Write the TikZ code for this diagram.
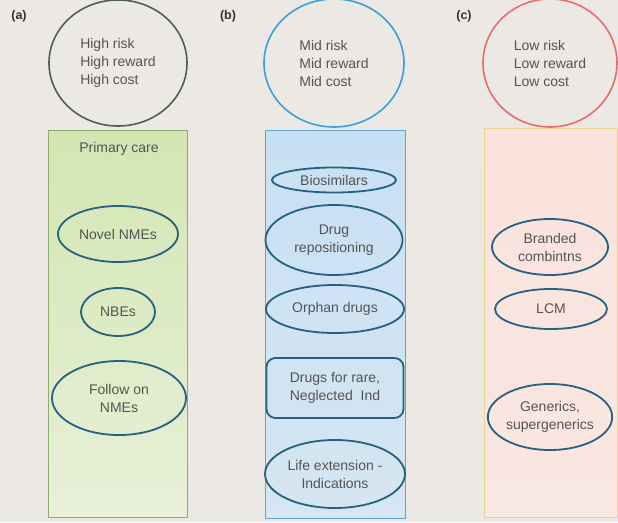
\documentclass[tikz,border=0pt]{standalone}
\usepackage{fontspec}
\setmainfont{Liberation Sans}
\usetikzlibrary{shapes.geometric}
\definecolor{bgpaper}{RGB}{236,233,228}
\definecolor{txtgray}{RGB}{84,84,84}
\definecolor{ovalblue}{RGB}{38,98,128}
\definecolor{greenring}{RGB}{80,96,72}
\definecolor{bluering}{RGB}{58,160,212}
\definecolor{redring}{RGB}{232,108,108}
\definecolor{greenedge}{RGB}{140,172,110}
\definecolor{blueedge}{RGB}{90,166,216}
\definecolor{yellowedge}{RGB}{235,212,140}
\tikzset{
  txt/.style={text=txtgray, font=\fontsize{14}{18}\selectfont},
  ring/.style={ellipse, draw, line width=1.6pt, inner sep=0pt, txt, align=left},
  oval/.style={ellipse, draw=ovalblue, line width=1.8pt, inner sep=0pt, txt, align=center},
  roundbox/.style={rectangle, rounded corners=9pt, draw=ovalblue, line width=1.8pt, inner sep=0pt, txt, align=center},
  panel/.style={line width=1pt},
  tag/.style={text=black!80, font=\fontsize{12.5}{14}\selectfont\bfseries}
}
\begin{document}
\begin{tikzpicture}[x=1pt,y=-1pt]
  % paper
  \fill[bgpaper] (0,0) rectangle (618,522);
  \useasboundingbox (0,0) rectangle (618,522);

  % panel labels
  \node[tag] (ta) at (19,16) {(a)};
  \node[tag] (tb) at (228,16) {(b)};
  \node[tag] (tc) at (464,16) {(c)};

  % column backgrounds
  \shade[top color={rgb,255:red,210;green,230;blue,178}, bottom color={rgb,255:red,232;green,240;blue,216}]
    (48,130) rectangle (187,517);
  \draw[panel, greenedge] (48,130) rectangle (187,517);
  \shade[top color={rgb,255:red,200;green,224;blue,243}, bottom color={rgb,255:red,214;green,230;blue,242}]
    (265,130) rectangle (405,518);
  \draw[panel, blueedge] (265,130) rectangle (405,518);
  \shade[top color={rgb,255:red,250;green,226;blue,220}, bottom color={rgb,255:red,249;green,231;blue,226}]
    (484,128) rectangle (617,517);
  \draw[panel, yellowedge] (484,128) rectangle (617,517);

  % risk / reward / cost rings
  \node[ring, draw=greenring, minimum width=138pt, minimum height=126pt] (ra) at (118,63)
    {High risk\\High reward\\High cost};
  \node[ring, draw=bluering, minimum width=140pt, minimum height=128pt] (rb) at (334,63)
    {Mid risk\\Mid reward\\Mid cost};
  \node[ring, draw=redring, minimum width=134pt, minimum height=128pt] (rc) at (550,63)
    {Low risk\\Low reward\\Low cost};

  % column (a)
  \node[txt] (pc) at (119,149) {Primary care};
  \node[oval, minimum width=120pt, minimum height=56pt] (nn) at (118,234) {Novel NMEs};
  \node[oval, minimum width=74pt, minimum height=48pt] (nb) at (118,312) {NBEs};
  \node[oval, minimum width=134pt, minimum height=74pt] (fo) at (119,398) {Follow on\\NMEs};

  % column (b)
  \node[oval, minimum width=124pt, minimum height=25pt] (bs) at (334,180) {Biosimilars};
  \node[oval, minimum width=137pt, minimum height=70pt] (dr) at (334,240) {Drug\\repositioning};
  \node[oval, minimum width=138pt, minimum height=48pt] (od) at (335,309) {Orphan drugs};
  \node[roundbox, minimum width=137pt, minimum height=60pt] (rd) at (335,388) {Drugs for rare,\\Neglected~~Ind};
  \node[oval, minimum width=140pt, minimum height=68pt] (le) at (335,474) {Life extension -\\Indications};

  % column (c)
  \node[oval, minimum width=116pt, minimum height=56pt] (bc) at (550,247) {Branded\\combintns};
  \node[oval, minimum width=112pt, minimum height=40pt] (lc) at (551,309) {LCM};
  \node[oval, minimum width=124pt, minimum height=66pt] (ge) at (550,417) {Generics,\\supergenerics};
\end{tikzpicture}
\end{document}
